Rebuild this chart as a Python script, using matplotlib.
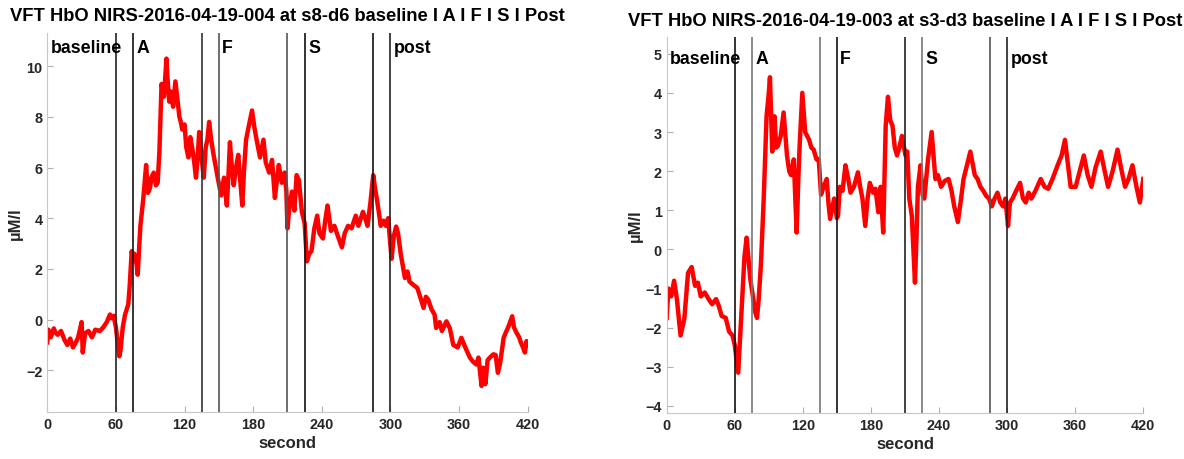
import matplotlib
matplotlib.use('Agg')
import matplotlib.pyplot as plt

plt.rcParams['font.family'] = ['Liberation Sans', 'DejaVu Sans']
plt.rcParams['font.weight'] = 'bold'

# ---- data ----
left_title = 'VFT HbO NIRS-2016-04-19-004 at s8-d6 baseline I A I F I S I Post'
right_title = 'VFT HbO NIRS-2016-04-19-003 at s3-d3 baseline I A I F I S I Post'

# s8-d6 (left panel)
left_t = [0, 1, 3, 5.7, 7, 9, 12, 15, 17.5, 20, 22.5, 25, 27, 29, 30, 31, 33, 36, 39,
          42, 46, 49, 52, 54.8, 56, 58, 60, 61.5, 63, 64, 66, 68, 70.8, 72, 73.8, 75, 76,
          78, 79, 81.4, 84, 86.4, 88, 89.8, 91, 93.1, 95, 96.5, 98, 99.9, 102, 104.2, 105,
          106.6, 108, 110, 112, 114, 115.5, 116.7, 118, 120, 121.5, 123.4, 125, 126.8, 128.5,
          130, 131.5, 132.8, 134.5, 136.8, 138.5, 140, 141.5, 143, 145, 147, 149, 152, 154.5,
          157, 158.5, 159.7, 161, 163, 165, 167, 168.5, 170.5, 172, 173.8, 176, 179, 181,
          183, 186, 189, 191, 194, 196.5, 199, 201, 202.4, 205, 207.5, 209, 210, 212, 214,
          216, 218, 220, 222.6, 225, 227, 229, 231, 233.5, 236, 238, 241, 243, 245, 248,
          251, 254, 257.6, 260, 263, 266, 269.7, 272, 276, 278, 280, 282.5, 285, 286.5,
          288, 290, 291.5, 294, 296, 298, 301, 303, 305, 306.7, 309, 312.7, 315, 316.7,
          320, 323.5, 326, 329, 331, 333, 336, 338.6, 340, 343, 345, 349, 352, 355, 358.8,
          362, 365.5, 369.5, 372, 375, 377, 379.7, 381, 383, 385, 387, 390, 392, 394, 396,
          399, 401, 403, 406.5, 408, 410, 412.6, 414, 416, 417.6, 419, 420]
left_v = [-0.9, -0.4, -0.7, -0.35, -0.5, -0.6, -0.45, -0.8, -1.0, -0.75, -1.1, -0.9, -0.7,
          -0.3, -0.1, -1.3, -0.55, -0.45, -0.7, -0.4, -0.45, -0.3, -0.1, 0.2, 0.05, 0.15,
          -0.3, -0.9, -1.45, -1.2, -0.3, 0.2, 0.6, 1.3, 2.7, 2.4, 2.6, 2.2, 1.77, 3.7, 4.8,
          6.1, 5.0, 5.2, 5.6, 5.8, 5.3, 5.4, 6.6, 9.3, 8.8, 10.3, 9.6, 8.6, 9.0, 8.4, 9.4,
          8.6, 8.0, 7.8, 7.5, 7.7, 6.8, 6.4, 7.2, 6.75, 6.2, 5.6, 6.4, 7.4, 6.6, 5.6, 6.8,
          7.1, 7.8, 7.2, 6.6, 6.1, 5.6, 4.9, 5.6, 4.5, 5.8, 7.0, 6.2, 5.3, 6.0, 6.5, 5.6,
          4.5, 5.9, 7.1, 7.6, 8.25, 7.6, 7.1, 6.4, 7.1, 6.2, 5.8, 6.3, 4.8, 5.6, 6.1, 5.4,
          5.8, 5.1, 3.6, 4.6, 5.05, 4.3, 5.7, 5.5, 4.25, 3.8, 2.3, 2.6, 2.7, 3.6, 4.1, 3.4,
          3.2, 3.9, 4.5, 3.5, 3.7, 3.3, 2.85, 3.4, 3.7, 3.6, 4.1, 3.7, 4.25, 4.0, 3.7, 4.6,
          5.7, 5.2, 4.8, 4.2, 3.7, 3.9, 3.7, 4.0, 2.4, 3.3, 3.67, 3.4, 2.6, 1.64, 1.9, 1.5,
          1.37, 1.25, 0.9, 0.46, 0.9, 0.79, 0.4, 0.2, -0.33, -0.1, -0.45, -0.07, -0.35,
          -1.0, -1.1, -0.72, -1.1, -1.5, -1.65, -1.77, -1.5, -2.62, -1.9, -2.55, -1.6, -1.5,
          -1.37, -1.4, -2.1, -1.7, -0.72, -0.5, -0.3, 0.13, -0.3, -0.5, -0.7, -0.9, -1.1,
          -1.3, -0.85, -1.0]

# s3-d3 (right panel)
right_t = [0, 1.5, 4, 6.5, 9, 12.2, 15.5, 18.8, 22, 25, 27.5, 30, 33.5, 37, 40, 43.5, 46,
           48.4, 52, 55, 58, 60, 63, 66.5, 68.5, 70.4, 73.7, 76, 78, 79.6, 81, 83, 85.5, 88,
           90, 91, 93, 95, 96.5, 98, 100.5, 103, 106, 108, 109.6, 112, 114.5, 116, 117,
           119.5, 122, 125.5, 127.5, 129.5, 132, 134, 136, 137.7, 141, 142.5, 144, 147.6,
           150, 151, 152.6, 155, 157.5, 160, 162, 165, 168.5, 170.5, 172.5, 175, 177, 179,
           182, 184, 186.5, 188.5, 190.8, 193, 195, 197, 199, 201, 203, 205, 207.3, 210.5,
           212, 213.8, 216, 218.8, 220, 221.4, 223.7, 225.5, 227, 230.3, 233.5, 236.8,
           239, 241.8, 245, 248.4, 251, 253.4, 256.6, 259, 261.6, 265, 267.6, 271.5, 274,
           276.5, 279, 281.5, 284, 286.5, 289, 291.5, 294, 296.5, 298.5, 300.8, 302.5,
           304.8, 308, 311.4, 314, 316.4, 319, 321.4, 325, 329.6, 333, 336.2, 340, 344.5,
           348, 351, 353.5, 356, 360.4, 364, 367.6, 371, 374.3, 378, 382.5, 386, 389, 393,
           397.3, 401, 404, 407, 410.5, 414, 417, 420]
right_v = [-1.75, -1.0, -1.2, -0.8, -1.27, -2.2, -1.78, -0.6, -0.45, -0.93, -0.85, -1.2,
           -1.1, -1.27, -1.4, -1.27, -1.45, -1.7, -1.75, -2.1, -2.2, -2.45, -3.15, -1.27,
           -0.2, 0.3, -0.76, -1.2, -1.6, -1.75, -1.3, -0.4, 1.3, 3.4, 4.0, 4.4, 2.5, 3.4,
           2.6, 2.65, 2.9, 3.5, 2.4, 2.0, 1.9, 2.3, 0.43, 1.8, 2.55, 4.0, 3.0, 2.8, 2.6,
           2.55, 2.3, 2.3, 1.4, 1.55, 1.8, 1.2, 0.78, 1.3, 0.8, 0.86, 1.6, 1.5, 2.15, 1.8,
           1.45, 1.6, 1.97, 1.6, 1.3, 0.6, 1.3, 1.7, 1.45, 1.55, 0.95, 1.6, 0.43, 3.16, 3.9,
           3.3, 3.16, 2.6, 2.4, 2.6, 2.9, 2.4, 2.5, 1.3, 0.86, -0.85, 0.2, 1.6, 2.15, 1.4,
           1.3, 2.3, 3.0, 1.8, 1.9, 1.6, 1.75, 1.8, 1.5, 1.1, 0.7, 1.2, 1.8, 2.2, 2.5, 1.9,
           1.8, 1.6, 1.5, 1.37, 1.3, 1.1, 1.3, 1.45, 1.2, 1.1, 1.3, 0.6, 1.2, 1.3, 1.5, 1.7,
           1.3, 1.2, 1.45, 1.3, 1.5, 1.8, 1.6, 1.55, 1.8, 2.15, 2.4, 2.8, 2.2, 1.6, 1.6, 2.0,
           2.4, 1.9, 1.6, 2.1, 2.5, 2.0, 1.6, 2.0, 2.55, 2.0, 1.6, 1.8, 2.15, 1.6, 1.2, 1.8]

event_t = [60, 75, 135, 150, 210, 225, 285, 300]
phase_names = ['baseline', 'A', 'F', 'S', 'post']
phase_t = [3, 78, 153, 228, 303]
left_lines = ['#222222', '#111111', '#333333', '#555555', '#555555', '#111111', '#111111', '#222222']
right_lines = ['#111111', '#777777', '#777777', '#111111', '#222222', '#777777', '#555555', '#222222']


def draw_panel(ax, t, v, title, ylim, yticks, line_colors, label_y):
    ax.plot(t, v, color='red', linewidth=3.2)
    for x, c in zip(event_t, line_colors):
        ax.axvline(x, color=c, linewidth=1.2)
    for x, name in zip(phase_t, phase_names):
        ax.text(x, label_y, name, fontsize=12.8, fontweight='bold', va='center', ha='left')
    ax.set_xlim(0, 420)
    ax.set_ylim(*ylim)
    ax.set_xticks(range(0, 421, 60))
    ax.set_yticks(yticks)
    ax.set_title(title, fontsize=13.2, fontweight='bold', pad=9)
    ax.set_xlabel('second', fontsize=12, fontweight='bold', color='#262626', labelpad=3)
    ax.set_ylabel('µM/l', fontsize=12, fontweight='bold', color='#262626', labelpad=2)
    for s in ['top', 'right']:
        ax.spines[s].set_visible(False)
    for s in ['left', 'bottom']:
        ax.spines[s].set_color('#c8c8c8')
    ax.tick_params(direction='in', length=4, color='#b0b0b0', labelcolor='#262626',
                   labelsize=10.4)
    for lbl in ax.get_xticklabels() + ax.get_yticklabels():
        lbl.set_fontweight('bold')


fig = plt.figure(figsize=(11.84, 4.6), dpi=100)
ax1 = fig.add_axes([0.03995, 0.1015, 0.4057, 0.8246])
ax2 = fig.add_axes([0.5631, 0.1000, 0.4025, 0.8167])

draw_panel(ax1, left_t, left_v, left_title, (-3.66, 11.31), range(-2, 11, 2), left_lines, 10.75)
draw_panel(ax2, right_t, right_v, right_title, (-4.18, 5.42), range(-4, 6), right_lines, 4.88)

fig.savefig('out.png', dpi=100)
